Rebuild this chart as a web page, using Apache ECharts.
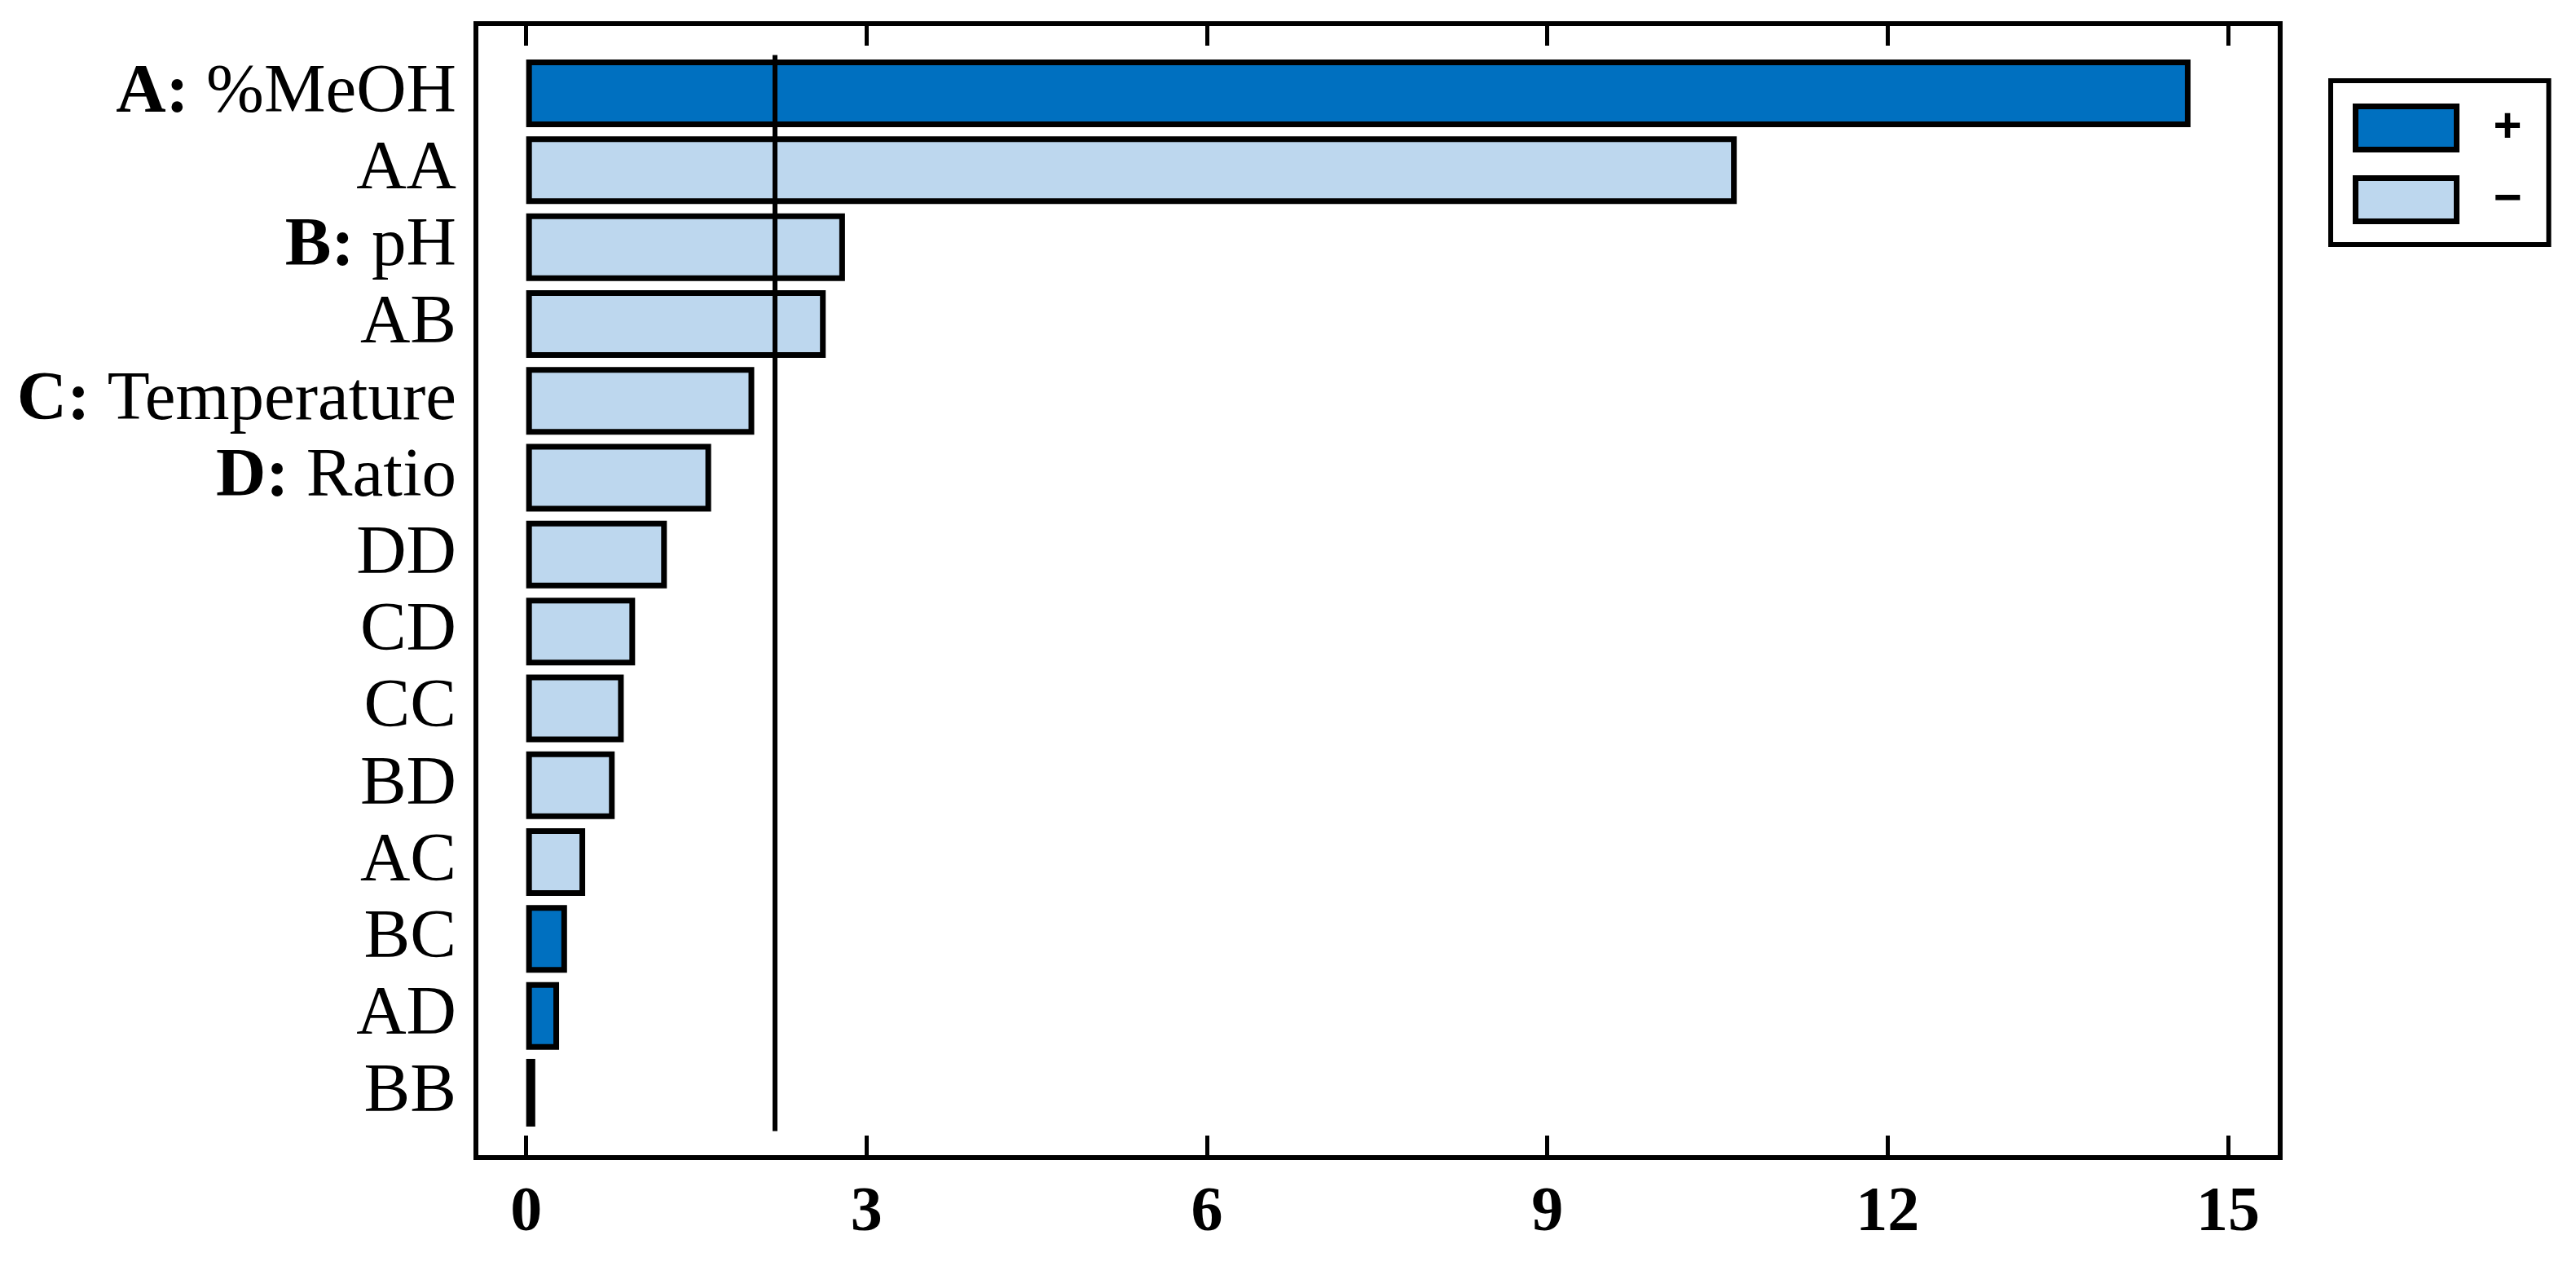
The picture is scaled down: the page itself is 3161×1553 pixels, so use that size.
<!DOCTYPE html>
<html>
<head>
<meta charset="utf-8">
<script src="https://cdn.jsdelivr.net/npm/echarts@6/dist/echarts.min.js"></script>
<style>
  html, body { margin: 0; padding: 0; background: #fff; }
  #chart { width: 3161px; height: 1553px; }
</style>
</head>
<body>
<div id="chart"></div>
<script>
// ---- data ----
const categories = ['A: %MeOH', 'AA', 'B: pH', 'AB', 'C: Temperature', 'D: Ratio', 'DD', 'CD', 'CC', 'BD', 'AC', 'BC', 'AD', 'BB'];
const effects    = [14.67, 10.67, 2.81, 2.64, 2.01, 1.63, 1.24, 0.96, 0.86, 0.78, 0.52, 0.36, 0.29, 0.08];
const signs      = ['+', '-', '-', '-', '-', '-', '-', '-', '-', '-', '-', '+', '+', '-'];
const refValue   = 2.19;
const xTicks     = [0, 3, 6, 9, 12, 15];
const legendNames = ['+', '\u2212'];

// ---- styling constants ----
const xMin = -0.443, xMax = 15.46;
const darkBlue = '#0070C0', lightBlue = '#BDD7EE';
const serif = 'Liberation Serif';

const plusData  = effects.map((v, i) => signs[i] === '+' ? v : null);
const minusData = effects.map((v, i) => signs[i] === '-' ? v : null);

const chart = echarts.init(document.getElementById('chart'), null, { renderer: 'canvas' });

const frameLine = { show: true, onZero: false, lineStyle: { color: '#000', width: 6, cap: 'square' } };

chart.setOption({
  animation: false,
  backgroundColor: '#fff',
  grid: [
    { left: 584, right: 363, top: 29, bottom: 133 },     // frame
    { left: 584, right: 363, top: 67.4, bottom: 165.4 }  // bars
  ],
  xAxis: [
    {
      gridIndex: 0, type: 'value', position: 'bottom', min: xMin, max: xMax,
      axisLine: frameLine,
      axisTick: { show: true, inside: true, length: 27, customValues: xTicks, lineStyle: { color: '#000', width: 5 } },
      axisLabel: { show: true, customValues: xTicks, margin: 30, fontFamily: serif, fontWeight: 'bold', fontSize: 78, color: '#000' },
      splitLine: { show: false }
    },
    {
      gridIndex: 0, type: 'value', position: 'top', min: xMin, max: xMax,
      axisLine: frameLine,
      axisTick: { show: true, inside: true, length: 27, customValues: xTicks, lineStyle: { color: '#000', width: 5 } },
      axisLabel: { show: false },
      splitLine: { show: false }
    },
    {
      gridIndex: 1, type: 'value', min: xMin, max: xMax, show: false,
      splitLine: { show: false }
    }
  ],
  yAxis: [
    {
      gridIndex: 0, type: 'value', position: 'left', min: 0, max: 1,
      axisLine: frameLine, axisTick: { show: false }, axisLabel: { show: false }, splitLine: { show: false }
    },
    {
      gridIndex: 0, type: 'value', position: 'right', min: 0, max: 1,
      axisLine: frameLine, axisTick: { show: false }, axisLabel: { show: false }, splitLine: { show: false }
    },
    {
      gridIndex: 1, type: 'category', data: categories, inverse: true,
      axisLine: { show: false }, axisTick: { show: false }, splitLine: { show: false },
      axisLabel: {
        margin: 24,
        formatter: function (v) {
          const m = v.match(/^([A-D]):(.*)$/);
          return m ? '{b|' + m[1] + ':}{r|' + m[2] + '}' : '{r|' + v + '}';
        },
        rich: {
          b: { fontFamily: serif, fontWeight: 'bold', fontSize: 85, color: '#000' },
          r: { fontFamily: serif, fontSize: 85, color: '#000' }
        }
      }
    }
  ],
  legend: {
    show: true,
    data: legendNames.map(n => ({ name: n, icon: 'rect' })),
    orient: 'vertical',
    left: 2860, top: 99,
    padding: [28, 33, 25, 27],
    itemWidth: 124, itemHeight: 53, itemGap: 28,
    borderColor: '#000', borderWidth: 6, backgroundColor: '#fff',
    itemStyle: { borderColor: '#000', borderWidth: 7 },
    textStyle: { fontFamily: 'Liberation Sans', fontWeight: 'bold', fontSize: 60, lineHeight: 40, color: '#000', padding: [0, 0, 0, 40] },
    selectedMode: false
  },
  series: [
    {
      name: legendNames[0], type: 'bar', xAxisIndex: 2, yAxisIndex: 2,
      data: plusData, barWidth: 83, barGap: '-100%',
      itemStyle: { color: darkBlue, borderColor: '#000', borderWidth: 7 },
      silent: true
    },
    {
      name: legendNames[1], type: 'bar', xAxisIndex: 2, yAxisIndex: 2,
      data: minusData, barWidth: 83, barGap: '-100%',
      itemStyle: { color: lightBlue, borderColor: '#000', borderWidth: 7 },
      silent: true,
      markLine: {
        silent: true, symbol: 'none',
        label: { show: false },
        lineStyle: { color: '#000', width: 6, type: 'solid' },
        data: [{ xAxis: refValue }]
      }
    }
  ]
});
</script>
</body>
</html>
